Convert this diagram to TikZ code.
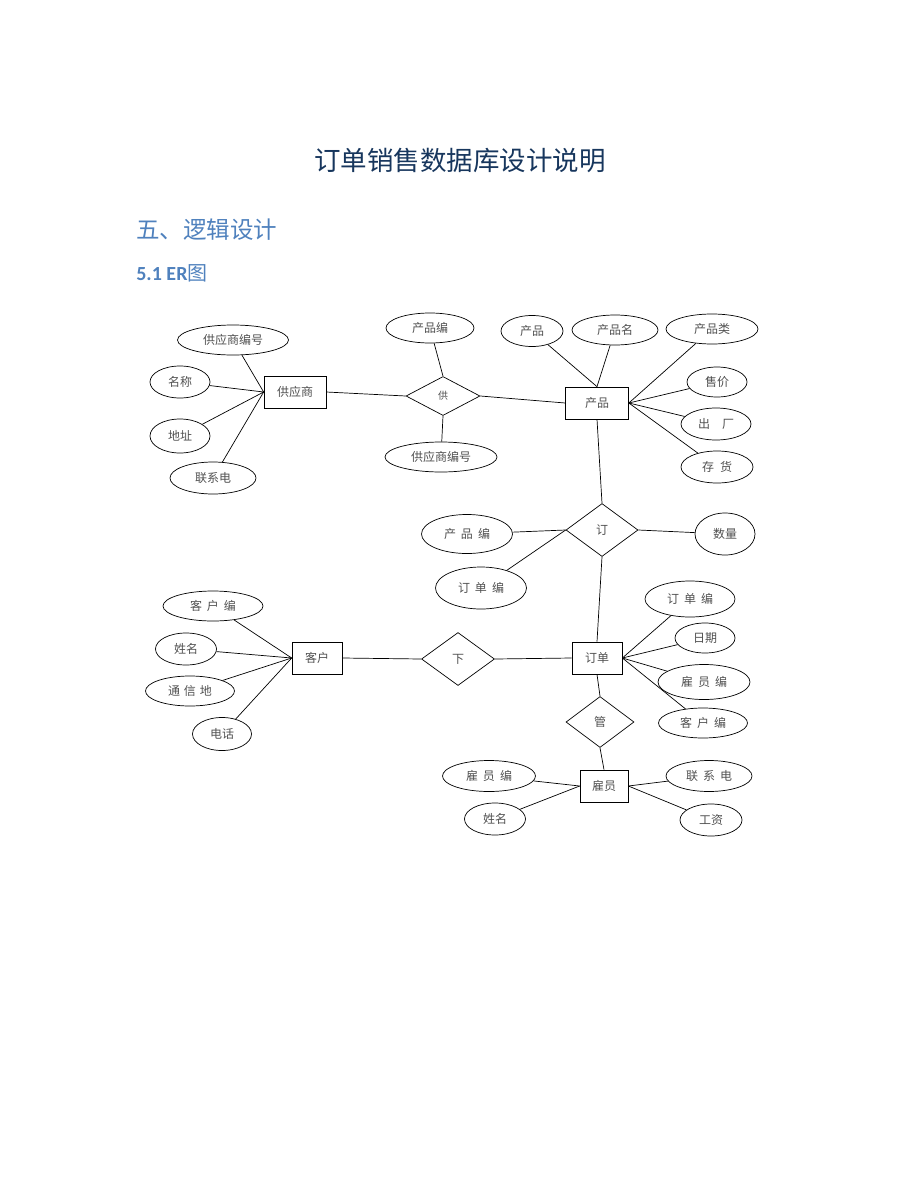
\documentclass[tikz,border=0pt]{standalone}
\usepackage{fontspec}
\setmainfont{Noto Sans CJK SC}
\newfontfamily\latinhead{Carlito}
\usetikzlibrary{shapes.geometric}
\usetikzlibrary{positioning}
\definecolor{titleblue}{HTML}{17365D}
\definecolor{headblue}{HTML}{4F81BD}
\definecolor{labelgray}{HTML}{505050}
\begin{document}
\begin{tikzpicture}[x=1pt, y=-1pt, line width=0.7pt,
    every node/.style={font=\fontsize{12}{14}\selectfont, text=labelgray},
    entity/.style={draw, rectangle, minimum height=32pt, inner sep=0pt},
    attr/.style={draw, ellipse, inner sep=0pt},
    rel/.style={draw, diamond, inner sep=0pt}]
    \useasboundingbox (0,0) rectangle (920,1191);

    % headings
    \node (title) at (460,160) {\fontsize{26.5}{30}\selectfont\color{titleblue}订单销售数据库设计说明};
    \node (sec) [anchor=west, inner sep=0pt] at (136,230) {\fontsize{23.5}{26}\selectfont\color{headblue}五、逻辑设计};
    \node (subsec) [anchor=west, inner sep=0pt] at (136,273) {\fontsize{20}{22}\selectfont\color{headblue}{\latinhead\bfseries 5.1 ER}图};

    % entities
    \node (supp) [entity, minimum width=62pt] at (295,392) {供应商};
    \node (prod) [entity, minimum width=63pt] at (597,403) {产品};
    \node (ordr) [entity, minimum width=50pt] at (597,658) {订单};
    \node (cust) [entity, minimum width=50pt] at (317,658) {客户};
    \node (empl) [entity, minimum width=48pt] at (604,786) {雇员};

    % relations
    \node (rsup) [rel, minimum width=74pt, minimum height=39pt] at (443,396) {\fontsize{10}{12}\selectfont 供};
    \node (rord) [rel, minimum width=72pt, minimum height=53pt] at (602,530) {订};
    \node (rput) [rel, minimum width=73pt, minimum height=53pt] at (458,659) {下};
    \node (rmng) [rel, minimum width=68pt, minimum height=51pt] at (600,722) {管};

    % supplier attributes
    \node (sno) [attr, minimum width=111pt, minimum height=30pt] at (233,340) {供应商编号};
    \node (sname) [attr, minimum width=60pt, minimum height=32pt] at (180,382) {名称};
    \node (saddr) [attr, minimum width=60pt, minimum height=34pt] at (180,436) {地址};
    \node (stel) [attr, minimum width=86pt, minimum height=32pt] at (213,478) {联系电};

    % supply attributes
    \node (upno) [attr, minimum width=88pt, minimum height=30pt] at (430,328) {产品编};
    \node (usno) [attr, minimum width=112pt, minimum height=30pt] at (441,457) {供应商编号};

    % product attributes
    \node (pno) [attr, minimum width=62pt, minimum height=31pt] at (532,331) {产品};
    \node (pname) [attr, minimum width=86pt, minimum height=30pt] at (615,330) {产品名};
    \node (ptype) [attr, minimum width=92pt, minimum height=30pt] at (712,329) {产品类};
    \node (pprice) [attr, minimum width=60pt, minimum height=30pt] at (717,382) {售价};
    \node (pfac) [attr, minimum width=70pt, minimum height=32pt] at (716,424) {出\hspace{12pt}厂};
    \node (pstock) [attr, minimum width=72pt, minimum height=32pt] at (717,467) {存\hspace{6pt}货};

    % order-line attributes
    \node (lpno) [attr, minimum width=91pt, minimum height=39pt] at (467,534) {产\hspace{5pt}品\hspace{5pt}编};
    \node (lono) [attr, minimum width=91pt, minimum height=42pt] at (481,588) {订\hspace{5pt}单\hspace{5pt}编};
    \node (lqty) [attr, minimum width=60pt, minimum height=42pt] at (725,534) {数量};

    % order attributes
    \node (ono) [attr, minimum width=90pt, minimum height=36pt] at (690,599) {订\hspace{5pt}单\hspace{5pt}编};
    \node (odate) [attr, minimum width=60pt, minimum height=30pt] at (705,638) {日期};
    \node (oeno) [attr, minimum width=92pt, minimum height=35pt] at (704,682) {雇\hspace{5pt}员\hspace{5pt}编};
    \node (ocno) [attr, minimum width=89pt, minimum height=30pt] at (703,723) {客\hspace{5pt}户\hspace{5pt}编};

    % customer attributes
    \node (cno) [attr, minimum width=100pt, minimum height=30pt] at (213,606) {客\hspace{5pt}户\hspace{5pt}编};
    \node (cname) [attr, minimum width=61pt, minimum height=32pt] at (186,649) {姓名};
    \node (caddr) [attr, minimum width=89pt, minimum height=30pt] at (190,691) {通\hspace{4pt}信\hspace{4pt}地};
    \node (ctel) [attr, minimum width=59pt, minimum height=33pt] at (222,734) {电话};

    % employee attributes
    \node (eno) [attr, minimum width=93pt, minimum height=31pt] at (489,776) {雇\hspace{5pt}员\hspace{5pt}编};
    \node (ename) [attr, minimum width=61pt, minimum height=32pt] at (495,819) {姓名};
    \node (etel) [attr, minimum width=86pt, minimum height=31pt] at (709,776) {联\hspace{5pt}系\hspace{5pt}电};
    \node (epay) [attr, minimum width=62pt, minimum height=32pt] at (711,820) {工资};

    % connectors
    \foreach \a in {sno, sname, saddr, stel}
        \draw (\a) -- (supp.west);
    \draw (supp.east) -- (rsup.west);
    \draw (rsup.east) -- (prod.west);
    \draw (upno) -- (rsup.north);
    \draw (usno) -- (rsup.south);
    \foreach \a in {pno, pname}
        \draw (\a) -- (prod.north);
    \foreach \a in {ptype, pprice, pfac, pstock}
        \draw (\a) -- (prod.east);
    \draw (prod.south) -- (rord.north);
    \draw (rord.south) -- (ordr.north);
    \draw (lpno) -- (rord.west);
    \draw (lono) -- (rord.west);
    \draw (rord.east) -- (lqty);
    \foreach \a in {ono, odate, oeno, ocno}
        \draw (\a) -- (ordr.east);
    \foreach \a in {cno, cname, caddr, ctel}
        \draw (\a) -- (cust.west);
    \draw (cust.east) -- (rput.west);
    \draw (rput.east) -- (ordr.west);
    \draw (ordr.south) -- (rmng.north);
    \draw (rmng.south) -- (empl.north);
    \foreach \a in {eno, ename}
        \draw (\a) -- (empl.west);
    \foreach \a in {etel, epay}
        \draw (\a) -- (empl.east);
\end{tikzpicture}
\end{document}
